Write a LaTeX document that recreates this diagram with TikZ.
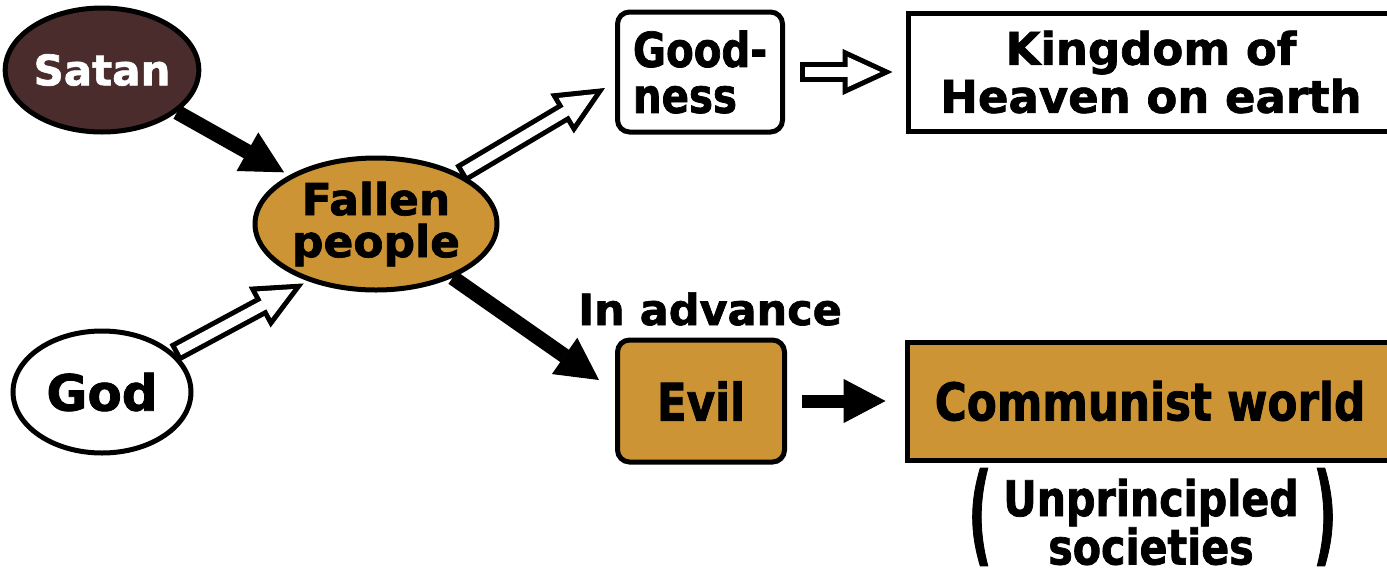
\documentclass[tikz,border=0pt]{standalone}
\usepackage{fontspec}
\setmainfont{DejaVu Sans}
\newfontfamily\heavy[FakeBold=1.5]{DejaVu Sans Bold}
\newfontfamily\heavycond[FakeBold=1.5, FakeStretch=0.84]{DejaVu Sans Bold}
\usepackage{graphicx}
\usetikzlibrary{positioning, arrows.meta, shapes.geometric}
\definecolor{fallenochre}{RGB}{204,148,52}
\definecolor{satanbrown}{RGB}{74,44,44}

\begin{document}
\begin{tikzpicture}[x=1pt, y=-1pt,
  blob/.style={ellipse, draw=black, line width=5pt, inner sep=0pt, align=center},
  box/.style={draw=black, line width=5pt, inner sep=0pt, align=center},
  label/.style={inner sep=0pt},
  darrow/.style={line width=15pt, -{Triangle[length=42pt, width=44pt, line width=1pt]}},
  harrow/.style={line width=20pt, -{Triangle[length=50pt, width=46pt, line width=1pt]},
    postaction={draw=white, line width=10pt, shorten <=5pt, shorten >=12pt,
      -{Triangle[length=33pt, width=30pt, line width=1pt]}}}
]
  \useasboundingbox (0,0) rectangle (1387,579);
  \fill[white] (0,0) rectangle (1387,579);

  \node[blob, fill=satanbrown, text=white, minimum width=176pt, minimum height=124pt,
    font=\fontsize{42}{44}\heavy] (Satan) at (102,70) {Satan};
  \node[blob, fill=fallenochre, minimum width=242pt, minimum height=132pt,
    font=\fontsize{44}{42}\heavy] (Fallen) at (376,224) {Fallen\\people};
  \node[blob, fill=white, minimum width=178pt, minimum height=122pt,
    font=\fontsize{50}{52}\heavy] (God) at (102,392) {God};

  \node[box, rounded corners=12pt, minimum width=165pt, minimum height=120pt, align=left,
    font=\fontsize{48}{46}\heavycond] (Goodness) at (700,72) {Good-\\ness};
  \node[box, minimum width=486pt, minimum height=118pt,
    font=\fontsize{45}{48}\heavy] (Kingdom) at (1151,72) {Kingdom of\\Heaven on earth};

  \node[label, anchor=base, font=\fontsize{43}{44}\heavy] (Advance) at (710,325) {In advance};
  \node[box, fill=fallenochre, rounded corners=12pt, minimum width=167pt, minimum height=122pt,
    font=\fontsize{52}{54}\heavycond] (Evil) at (701,401) {Evil};
  \node[box, fill=fallenochre, minimum width=486pt, minimum height=118pt,
    font=\fontsize{52}{54}\heavycond] (Communist) at (1150,401) {Communist world};

  \node[label, align=center, font=\fontsize{49}{41}\heavycond] (Unprin) at (1151,522) {Unprincipled\\societies};
  \node[label, font=\fontsize{52}{54}\heavy] (lparen) at (980,517) {\scalebox{1}[2.1]{(}};
  \node[label, font=\fontsize{52}{54}\heavy] (rparen) at (1325,517) {\scalebox{1}[2.1]{)}};

  % arrows
  \draw[darrow, shorten >=6pt] (Satan) -- (Fallen);
  \draw[harrow] (God) -- ([shift={(15pt,-11pt)}]Fallen.south west);
  \draw[harrow] (Fallen) -- ([shift={(-10pt,-16pt)}]Goodness.west);
  \draw[darrow] (Fallen) -- ([shift={(-16pt,21pt)}]Evil.west);
  \draw[harrow] ([xshift=15pt]Goodness.east) -- ([xshift=-13pt]Kingdom.west);
  \draw[darrow, line width=13pt] ([xshift=15pt]Evil.east) -- ([xshift=-19pt]Communist.west);
\end{tikzpicture}
\end{document}
